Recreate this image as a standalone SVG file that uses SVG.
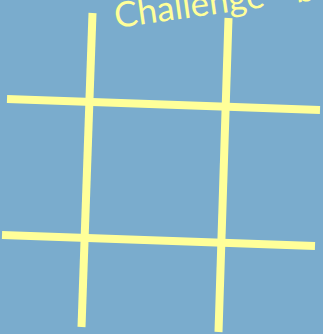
<svg xmlns="http://www.w3.org/2000/svg" width="323" height="334" viewBox="0 0 323 334">
<style>
.bar{stroke:#ffff99;stroke-width:8;stroke-linecap:butt;fill:none}
.title{fill:#ffff99;font-family:Lato,"Open Sans",sans-serif;font-size:35px}
</style>
<rect width="323" height="334" fill="#7aaccd"/>
<text class="title" x="116" y="28" transform="rotate(-8 116 28)">Challenge - b</text>
<g id="grid">
<line class="bar" x1="7" y1="99" x2="320" y2="110"/>
<line class="bar" x1="2" y1="235" x2="315" y2="246"/>
<line class="bar" x1="92.5" y1="13" x2="81.5" y2="327"/>
<line class="bar" x1="228.5" y1="18" x2="218.5" y2="332"/>
</g>
</svg>
